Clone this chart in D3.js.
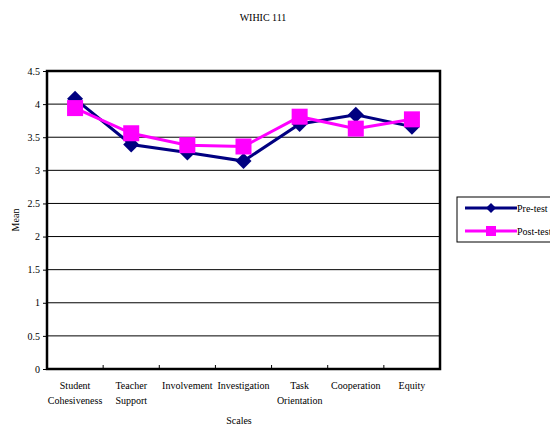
<!DOCTYPE html>
<html>
<head>
<meta charset="utf-8">
<script src="https://cdn.jsdelivr.net/npm/d3@7"></script>
<style>
  body { margin: 0; background: #fff; }
  svg text { font-family: "Liberation Serif", "DejaVu Serif", serif !important; fill: #000; }
</style>
</head>
<body>
<div id="chart"></div>
<script>
const categories = [
  ["Student", "Cohesiveness"],
  ["Teacher", "Support"],
  ["Involvement"],
  ["Investigation"],
  ["Task", "Orientation"],
  ["Cooperation"],
  ["Equity"]
];
const preTest = [4.08, 3.39, 3.27, 3.14, 3.70, 3.84, 3.66];
const postTest = [3.94, 3.56, 3.38, 3.36, 3.81, 3.63, 3.77];
const yTicks = [0, 0.5, 1, 1.5, 2, 2.5, 3, 3.5, 4, 4.5];

const width = 550;
const height = 425;
const margin = { top: 71, right: 110, bottom: 56, left: 47 };

const svg = d3.select("#chart")
  .append("svg")
  .attr("width", width)
  .attr("height", height)
  .attr("font-family", "Liberation Serif, serif");

const x = d3.scaleBand()
  .domain(d3.range(categories.length))
  .range([margin.left, width - margin.right])
  .padding(0);

const y = d3.scaleLinear()
  .domain([0, 4.5])
  .range([height - margin.bottom, margin.top]);

// grid lines
svg.append("g")
  .selectAll("line")
  .data(yTicks.slice(1, -1))
  .join("line")
    .attr("x1", margin.left)
    .attr("x2", width - margin.right)
    .attr("y1", d => y(d))
    .attr("y2", d => y(d))
    .attr("stroke", "#000")
    .attr("stroke-width", 1);

// y axis labels
const yAxis = svg.append("g")
  .attr("transform", `translate(${margin.left},0)`)
  .call(d3.axisLeft(y).tickValues(yTicks).tickSize(4).tickPadding(3).tickFormat(d => d));
yAxis.attr("font-family", null);
yAxis.select(".domain").remove();
yAxis.selectAll("text").attr("font-size", 10).attr("fill", "#333");

// x axis ticks (inside)
const xAxis = svg.append("g")
  .attr("transform", `translate(0,${height - margin.bottom})`);
xAxis.selectAll("line")
  .data(d3.range(1, categories.length))
  .join("line")
    .attr("x1", d => x(d))
    .attr("x2", d => x(d))
    .attr("y1", 0)
    .attr("y2", -4)
    .attr("stroke", "#000");

xAxis.selectAll("text")
  .data(categories)
  .join("text")
    .attr("text-anchor", "middle")
    .attr("font-size", 10)
    .attr("transform", (d, i) => `translate(${x(i) + x.bandwidth() / 2},20)`)
    .selectAll("tspan")
    .data(d => d)
    .join("tspan")
      .attr("x", 0)
      .attr("dy", (d, i) => i === 0 ? 0 : 15)
      .text(d => d);

// plot frame
svg.append("rect")
  .attr("x", margin.left)
  .attr("y", margin.top)
  .attr("width", width - margin.left - margin.right)
  .attr("height", height - margin.top - margin.bottom)
  .attr("fill", "none")
  .attr("stroke", "#000")
  .attr("stroke-width", 2.5);

const cx = i => x(i) + x.bandwidth() / 2;
const line = d3.line().x((d, i) => cx(i)).y(d => y(d));

const series = [
  { name: "Pre-test", values: preTest, color: "#000080", symbol: "diamond" },
  { name: "Post-test", values: postTest, color: "#ff00ff", symbol: "square" }
];

function drawMarker(g, type, color, r) {
  if (type === "diamond") {
    g.append("path").attr("d", `M0,${-r}L${r},0L0,${r}L${-r},0Z`).attr("fill", color);
  } else {
    g.append("rect").attr("x", -r).attr("y", -r).attr("width", 2 * r).attr("height", 2 * r).attr("fill", color);
  }
}

series.forEach(s => {
  svg.append("path")
    .datum(s.values)
    .attr("d", line)
    .attr("fill", "none")
    .attr("stroke", s.color)
    .attr("stroke-width", 3);
  s.values.forEach((v, i) => {
    const g = svg.append("g").attr("transform", `translate(${cx(i)},${y(v)})`);
    drawMarker(g, s.symbol, s.color, 8);
  });
});

// legend
const legend = svg.append("g").attr("transform", "translate(457,197)");
legend.append("rect")
  .attr("width", 100)
  .attr("height", 45)
  .attr("fill", "#fff")
  .attr("stroke", "#000");
series.forEach((s, i) => {
  const ly = 11 + i * 23;
  legend.append("line")
    .attr("x1", 8).attr("x2", 60)
    .attr("y1", ly).attr("y2", ly)
    .attr("stroke", s.color)
    .attr("stroke-width", 3);
  const g = legend.append("g").attr("transform", `translate(34,${ly})`);
  drawMarker(g, s.symbol, s.color, 5);
  legend.append("text")
    .attr("x", 60)
    .attr("y", ly + 4)
    .attr("font-size", 10)
    .text(s.name);
});

// titles
svg.append("text")
  .attr("x", 263)
  .attr("y", 21)
  .attr("text-anchor", "middle")
  .attr("font-size", 10)
  .text("WIHIC 111");

svg.append("text")
  .attr("transform", `translate(19,${(margin.top + height - margin.bottom) / 2}) rotate(-90)`)
  .attr("text-anchor", "middle")
  .attr("font-size", 10)
  .text("Mean");

svg.append("text")
  .attr("x", 239)
  .attr("y", 424)
  .attr("text-anchor", "middle")
  .attr("font-size", 10)
  .text("Scales");
</script>
</body>
</html>
